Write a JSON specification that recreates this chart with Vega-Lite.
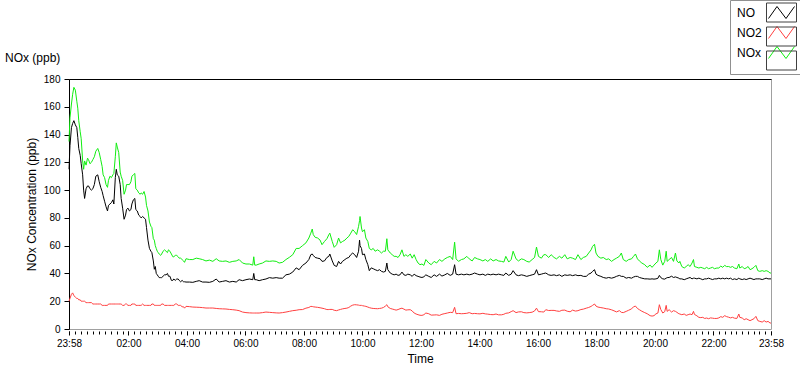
{
"$schema": "https://vega.github.io/schema/vega-lite/v6.json",
"width": 702, "height": 250,
"autosize": {"type": "none"},
"padding": {"left": 69, "top": 79, "right": 29, "bottom": 40},
"background": "white",
"title": {"text": "NOx (ppb)", "anchor": "start", "frame": "group", "dx": -64, "dy": 71, "offset": 6, "fontSize": 12, "fontWeight": "normal", "color": "black", "font": "Liberation Sans"},
"config": {"view": {"stroke": "#a0a0a0", "strokeWidth": 1}, "font": "Liberation Sans"},
"datasets": {
"d": [
{"t":0,"NO":115,"NO2":20,"NOx":135},{"t":2,"NO":132,"NO2":22,"NOx":152},{"t":5,"NO":145,"NO2":25,"NOx":162},{"t":7.5,"NO":148,"NO2":26,"NOx":169},{"t":10,"NO":150,"NO2":24,"NOx":174},{"t":13,"NO":147,"NO2":23,"NOx":172},{"t":16,"NO":145,"NO2":22,"NOx":164},{"t":18,"NO":138,"NO2":22,"NOx":159},{"t":20,"NO":130,"NO2":21,"NOx":150},{"t":23,"NO":125,"NO2":21,"NOx":142},{"t":25,"NO":119,"NO2":20,"NOx":137},{"t":28,"NO":111,"NO2":20,"NOx":121},{"t":30,"NO":100,"NO2":20,"NOx":115},{"t":32,"NO":94,"NO2":20,"NOx":121},{"t":35,"NO":101,"NO2":19,"NOx":118},{"t":38,"NO":103,"NO2":19,"NOx":123},{"t":40,"NO":103,"NO2":19,"NOx":122},{"t":43,"NO":101,"NO2":19,"NOx":119},{"t":46,"NO":100,"NO2":19,"NOx":120},{"t":49,"NO":101,"NO2":18,"NOx":122},{"t":52,"NO":104,"NO2":18,"NOx":124},{"t":55,"NO":110,"NO2":18,"NOx":128},{"t":59,"NO":111,"NO2":18,"NOx":130},{"t":62,"NO":106,"NO2":18,"NOx":127},{"t":65,"NO":102,"NO2":18,"NOx":122},{"t":68,"NO":99,"NO2":17,"NOx":117},{"t":70,"NO":96,"NO2":17,"NOx":111},{"t":73,"NO":92,"NO2":17,"NOx":109},{"t":76,"NO":88,"NO2":17,"NOx":104},{"t":79,"NO":85,"NO2":17,"NOx":102},{"t":81,"NO":89,"NO2":18,"NOx":107},{"t":84,"NO":90,"NO2":18,"NOx":110},{"t":87,"NO":91,"NO2":18,"NOx":109},{"t":90,"NO":93,"NO2":18,"NOx":111},{"t":92,"NO":90,"NO2":18,"NOx":112},{"t":95,"NO":109,"NO2":18,"NOx":124},{"t":97,"NO":115,"NO2":18,"NOx":134},{"t":99,"NO":111,"NO2":18,"NOx":131},{"t":102,"NO":110,"NO2":18,"NOx":127},{"t":105,"NO":104,"NO2":18,"NOx":113},{"t":107,"NO":94,"NO2":18,"NOx":110},{"t":110,"NO":87,"NO2":17,"NOx":107},{"t":113,"NO":79,"NO2":17,"NOx":97},{"t":116,"NO":82,"NO2":18,"NOx":100},{"t":118,"NO":86,"NO2":18,"NOx":104},{"t":121,"NO":87,"NO2":17,"NOx":104},{"t":124,"NO":85,"NO2":17,"NOx":104},{"t":127,"NO":86,"NO2":17,"NOx":106},{"t":129,"NO":90,"NO2":18,"NOx":110},{"t":132,"NO":93,"NO2":18,"NOx":111},{"t":135,"NO":94,"NO2":18,"NOx":112},{"t":137,"NO":86,"NO2":17,"NOx":101},{"t":140,"NO":85,"NO2":17,"NOx":100},{"t":143,"NO":82,"NO2":17,"NOx":98},{"t":146,"NO":81,"NO2":17,"NOx":97},{"t":148,"NO":80,"NO2":17,"NOx":98},{"t":151,"NO":81,"NO2":18,"NOx":97},{"t":154,"NO":80,"NO2":17,"NOx":99},{"t":157,"NO":79,"NO2":17,"NOx":95},{"t":159,"NO":73,"NO2":17,"NOx":89},{"t":162,"NO":64,"NO2":17,"NOx":85},{"t":165,"NO":58,"NO2":17,"NOx":77},{"t":168,"NO":56,"NO2":17,"NOx":74},{"t":170,"NO":55,"NO2":18,"NOx":73},{"t":173,"NO":49,"NO2":18,"NOx":65},{"t":175,"NO":43,"NO2":17,"NOx":64},{"t":177,"NO":45,"NO2":17,"NOx":60},{"t":179,"NO":40,"NO2":17,"NOx":58},{"t":181,"NO":39,"NO2":17,"NOx":56},{"t":183,"NO":38,"NO2":17,"NOx":55},{"t":185,"NO":37,"NO2":17,"NOx":54},{"t":188,"NO":37,"NO2":17,"NOx":53},{"t":190,"NO":37,"NO2":18,"NOx":54},{"t":193,"NO":38,"NO2":18,"NOx":56},{"t":196,"NO":39,"NO2":17,"NOx":57},{"t":199,"NO":39,"NO2":17,"NOx":56},{"t":202,"NO":40,"NO2":17,"NOx":55},{"t":204,"NO":38,"NO2":17,"NOx":57},{"t":207,"NO":38,"NO2":17,"NOx":56},{"t":210,"NO":35,"NO2":17,"NOx":54},{"t":213,"NO":35,"NO2":17,"NOx":52},{"t":215,"NO":36,"NO2":17,"NOx":52},{"t":218,"NO":35,"NO2":18,"NOx":53},{"t":221,"NO":36,"NO2":18,"NOx":53},{"t":224,"NO":36,"NO2":17,"NOx":52},{"t":226,"NO":35,"NO2":17,"NOx":51},{"t":229,"NO":34,"NO2":17,"NOx":51},{"t":232,"NO":35,"NO2":16,"NOx":50},{"t":235,"NO":34,"NO2":16,"NOx":49},{"t":237,"NO":34,"NO2":15,"NOx":48},
{"t":240,"NO":33.8,"NO2":16.3,"NOx":50.6},{"t":247,"NO":33.8,"NO2":16.1,"NOx":50},{"t":254,"NO":33.6,"NO2":15.8,"NOx":50},{"t":261,"NO":34.3,"NO2":15.7,"NOx":51},{"t":267,"NO":34.8,"NO2":15.6,"NOx":50.6},{"t":274,"NO":33.8,"NO2":15.4,"NOx":50},{"t":281,"NO":33.8,"NO2":15.1,"NOx":49},{"t":288,"NO":33.6,"NO2":15.1,"NOx":49.6},{"t":295,"NO":34.3,"NO2":15.1,"NOx":48.7},{"t":302,"NO":36,"NO2":14.8,"NOx":50.6},{"t":308,"NO":33.8,"NO2":14.6,"NOx":49},{"t":315,"NO":34.3,"NO2":14.5,"NOx":48.7},{"t":322,"NO":34.8,"NO2":14.4,"NOx":49},{"t":329,"NO":33.8,"NO2":14.1,"NOx":48},{"t":336,"NO":34.3,"NO2":13.9,"NOx":48.7},{"t":343,"NO":33.8,"NO2":13.6,"NOx":49},{"t":349,"NO":35.5,"NO2":13.2,"NOx":50},{"t":356,"NO":34.8,"NO2":12.2,"NOx":47.5},{"t":363,"NO":35.5,"NO2":11.8,"NOx":46.8},{"t":370,"NO":36,"NO2":11.6,"NOx":46.8},{"t":377,"NO":35.5,"NO2":11.5,"NOx":46},{"t":379,"NO":40,"NO2":11.5,"NOx":52},{"t":381,"NO":35.5,"NO2":11.5,"NOx":46},{"t":384,"NO":35.5,"NO2":11.5,"NOx":46},{"t":390,"NO":34.8,"NO2":11.5,"NOx":46.8},{"t":397,"NO":35.5,"NO2":11.8,"NOx":47.5},{"t":404,"NO":36,"NO2":12.2,"NOx":49},{"t":411,"NO":37,"NO2":12,"NOx":48.7},{"t":418,"NO":36.6,"NO2":11.8,"NOx":49},{"t":425,"NO":37,"NO2":11.6,"NOx":48.7},{"t":431,"NO":36.6,"NO2":11.5,"NOx":47.5},{"t":438,"NO":36.6,"NO2":11.8,"NOx":48},{"t":445,"NO":39,"NO2":12.2,"NOx":50},{"t":452,"NO":39.5,"NO2":12.7,"NOx":51.6},{"t":459,"NO":41,"NO2":13.2,"NOx":53.5},{"t":466,"NO":44,"NO2":13.5,"NOx":58},{"t":472,"NO":42.7,"NO2":13.9,"NOx":58},{"t":479,"NO":45.8,"NO2":14,"NOx":60},
{"t":486,"NO":47.5,"NO2":15,"NOx":62},{"t":492,"NO":50,"NO2":15.5,"NOx":65.5},{"t":496,"NO":53.5,"NO2":16.3,"NOx":69},{"t":499,"NO":54,"NO2":16.2,"NOx":72},{"t":501,"NO":53,"NO2":16,"NOx":68},{"t":505,"NO":51.5,"NO2":15.8,"NOx":66},{"t":510,"NO":51,"NO2":15.6,"NOx":65.5},{"t":515,"NO":50.6,"NO2":15.3,"NOx":64},{"t":519,"NO":48.7,"NO2":15,"NOx":60.7},{"t":524,"NO":49,"NO2":14.6,"NOx":63},{"t":529,"NO":51.5,"NO2":14,"NOx":65},{"t":533,"NO":52.3,"NO2":14,"NOx":67.9},{"t":535,"NO":54,"NO2":14.1,"NOx":69},{"t":540,"NO":49,"NO2":14.1,"NOx":63},{"t":544,"NO":45.8,"NO2":13.5,"NOx":58.8},{"t":549,"NO":45,"NO2":13.2,"NOx":60.7},{"t":553,"NO":48.7,"NO2":13.7,"NOx":65.5},{"t":557,"NO":46.8,"NO2":14.1,"NOx":62},{"t":561,"NO":48.7,"NO2":14.5,"NOx":63},{"t":566,"NO":50,"NO2":14.8,"NOx":64},{"t":570,"NO":51,"NO2":15,"NOx":65.5},{"t":574,"NO":51.5,"NO2":15.5,"NOx":66.7},{"t":578,"NO":53.5,"NO2":16.5,"NOx":69},{"t":582,"NO":54.7,"NO2":17.2,"NOx":71.5},{"t":586,"NO":53.5,"NO2":17.5,"NOx":70},{"t":590,"NO":51.5,"NO2":17.4,"NOx":68},{"t":594,"NO":56,"NO2":17.2,"NOx":73.9},{"t":596,"NO":64,"NO2":17,"NOx":78},{"t":597,"NO":60,"NO2":17,"NOx":81},{"t":600,"NO":58,"NO2":17,"NOx":72.7},{"t":602,"NO":53.5,"NO2":16.8,"NOx":70},{"t":606,"NO":54,"NO2":16.5,"NOx":71.5},{"t":609,"NO":50,"NO2":16.3,"NOx":65.5},{"t":613,"NO":46.3,"NO2":15.8,"NOx":63},{"t":616,"NO":42,"NO2":15.4,"NOx":58},{"t":620,"NO":44,"NO2":15,"NOx":57},{"t":624,"NO":43.4,"NO2":14.8,"NOx":58},{"t":628,"NO":42.7,"NO2":14.7,"NOx":56},{"t":633,"NO":42,"NO2":14.6,"NOx":57},{"t":637,"NO":42.7,"NO2":14.8,"NOx":56},{"t":641,"NO":41.5,"NO2":15,"NOx":54.7},{"t":645,"NO":41,"NO2":15.5,"NOx":56},{"t":649,"NO":41.5,"NO2":16.5,"NOx":56},{"t":652,"NO":47.5,"NO2":17.5,"NOx":65},{"t":654,"NO":42.7,"NO2":16,"NOx":57},{"t":659,"NO":40.3,"NO2":14.8,"NOx":54.7},{"t":663,"NO":39.5,"NO2":14.4,"NOx":53.5},{"t":667,"NO":39,"NO2":14,"NOx":52.3},{"t":671,"NO":39.5,"NO2":13.6,"NOx":52.3},{"t":675,"NO":38.6,"NO2":14,"NOx":51.5},{"t":679,"NO":39,"NO2":14.6,"NOx":53.5},{"t":683,"NO":41,"NO2":15,"NOx":57},{"t":687,"NO":39,"NO2":14.3,"NOx":52.3},{"t":691,"NO":38.6,"NO2":13.6,"NOx":53.5},{"t":695,"NO":39.5,"NO2":13.8,"NOx":52.3},{"t":700,"NO":39,"NO2":13.9,"NOx":54},{"t":704,"NO":37.9,"NO2":13,"NOx":51},{"t":708,"NO":39.5,"NO2":11.5,"NOx":53.5},{"t":712,"NO":38.4,"NO2":10.8,"NOx":50},{"t":716,"NO":37.9,"NO2":10.3,"NOx":47.5},{"t":720,"NO":37.4,"NO2":9.9,"NOx":46.3},{"t":724,"NO":37.1,"NO2":9.8,"NOx":46.8},{"t":728,"NO":37.6,"NO2":10.3,"NOx":45.8},
{"t":732,"NO":39,"NO2":11.5,"NOx":50},{"t":738,"NO":37.9,"NO2":11,"NOx":47.5},{"t":743,"NO":37.1,"NO2":10,"NOx":46.3},{"t":749,"NO":39,"NO2":10.1,"NOx":48.7},{"t":754,"NO":37.9,"NO2":10.2,"NOx":47.5},{"t":760,"NO":39.5,"NO2":9.8,"NOx":50},{"t":765,"NO":38.1,"NO2":10.6,"NOx":48.7},{"t":771,"NO":39,"NO2":11.1,"NOx":50.5},{"t":776,"NO":40,"NO2":11.5,"NOx":51.5},{"t":782,"NO":38.6,"NO2":12,"NOx":52.3},{"t":787,"NO":39.5,"NO2":11.8,"NOx":50},{"t":791,"NO":46.3,"NO2":15.6,"NOx":62.5},{"t":794,"NO":39.5,"NO2":11,"NOx":50.5},{"t":799,"NO":39,"NO2":11.2,"NOx":48.7},{"t":805,"NO":39.5,"NO2":11,"NOx":50},{"t":810,"NO":39,"NO2":11.1,"NOx":50.5},{"t":816,"NO":39.5,"NO2":11.3,"NOx":52.3},{"t":821,"NO":39,"NO2":11.8,"NOx":50.5},{"t":827,"NO":39.5,"NO2":11,"NOx":49},{"t":832,"NO":40.3,"NO2":11.2,"NOx":51.5},{"t":838,"NO":39.5,"NO2":11,"NOx":50.5},{"t":843,"NO":39,"NO2":10.9,"NOx":50},{"t":849,"NO":39.5,"NO2":11.3,"NOx":49},{"t":854,"NO":38.6,"NO2":10.9,"NOx":50},{"t":859,"NO":39.5,"NO2":10.7,"NOx":48.7},{"t":865,"NO":39,"NO2":10.4,"NOx":50.5},{"t":870,"NO":39.5,"NO2":10.3,"NOx":49},{"t":876,"NO":39,"NO2":10.8,"NOx":50},{"t":881,"NO":39.5,"NO2":10.2,"NOx":49},{"t":887,"NO":39,"NO2":10.2,"NOx":48.7},{"t":892,"NO":38.6,"NO2":10.6,"NOx":48.2},{"t":896,"NO":40.3,"NO2":11.3,"NOx":52.3},{"t":902,"NO":38.6,"NO2":11.6,"NOx":48.2},{"t":907,"NO":39.5,"NO2":12.5,"NOx":50},{"t":911,"NO":42,"NO2":13.2,"NOx":56},{"t":917,"NO":39,"NO2":11.8,"NOx":50.5},{"t":922,"NO":38.4,"NO2":12.3,"NOx":49},{"t":928,"NO":39,"NO2":12.4,"NOx":50.5},{"t":933,"NO":38.6,"NO2":11.8,"NOx":50},{"t":939,"NO":37.9,"NO2":11.6,"NOx":48.7},{"t":944,"NO":38.4,"NO2":11.8,"NOx":48.2},{"t":950,"NO":39,"NO2":12.1,"NOx":50},{"t":955,"NO":39.5,"NO2":13,"NOx":51.5},{"t":959,"NO":42.7,"NO2":15,"NOx":59},{"t":963,"NO":39,"NO2":12.5,"NOx":52.3},{"t":969,"NO":39.5,"NO2":12.4,"NOx":51},{"t":974,"NO":40,"NO2":12.2,"NOx":53.5},
{"t":978,"NO":40.3,"NO2":13.9,"NOx":53.5},{"t":984,"NO":39,"NO2":13.3,"NOx":51.5},{"t":989,"NO":38.6,"NO2":13.4,"NOx":53.5},{"t":995,"NO":39,"NO2":13.4,"NOx":51.5},{"t":1000,"NO":38.4,"NO2":13,"NOx":50.5},{"t":1006,"NO":39,"NO2":12.7,"NOx":52.3},{"t":1011,"NO":37.9,"NO2":13.5,"NOx":51},{"t":1017,"NO":39,"NO2":13.6,"NOx":53.5},{"t":1022,"NO":38.6,"NO2":12.8,"NOx":50.5},{"t":1028,"NO":39,"NO2":12.4,"NOx":51.5},{"t":1033,"NO":38.4,"NO2":13.6,"NOx":51},{"t":1039,"NO":39,"NO2":12.9,"NOx":50},{"t":1044,"NO":38.4,"NO2":13.2,"NOx":53.5},{"t":1050,"NO":38.6,"NO2":14,"NOx":50},{"t":1055,"NO":37.9,"NO2":14.3,"NOx":51.5},{"t":1061,"NO":37.9,"NO2":15,"NOx":52.3},{"t":1066,"NO":39.5,"NO2":15.5,"NOx":54.7},{"t":1071,"NO":40.3,"NO2":16.3,"NOx":57},{"t":1074,"NO":41.5,"NO2":17,"NOx":59.5},{"t":1078,"NO":42.7,"NO2":18,"NOx":61},{"t":1081,"NO":39.5,"NO2":16.5,"NOx":54.7},{"t":1085,"NO":38.6,"NO2":15.8,"NOx":52.3},{"t":1091,"NO":37.9,"NO2":15.4,"NOx":51},{"t":1096,"NO":37.1,"NO2":15.1,"NOx":51.5},{"t":1102,"NO":36.6,"NO2":14.6,"NOx":50},{"t":1107,"NO":37.1,"NO2":14.4,"NOx":50.5},{"t":1113,"NO":36.6,"NO2":13.8,"NOx":48.7},{"t":1118,"NO":37.1,"NO2":13.1,"NOx":50},{"t":1123,"NO":37.9,"NO2":12.3,"NOx":51},{"t":1129,"NO":38.6,"NO2":13.2,"NOx":52.3},{"t":1133,"NO":37.9,"NO2":12,"NOx":54.7},{"t":1137,"NO":37.9,"NO2":11.8,"NOx":50},{"t":1143,"NO":36.6,"NO2":12.7,"NOx":48.7},{"t":1148,"NO":37.1,"NO2":13.5,"NOx":50},{"t":1154,"NO":36.6,"NO2":14.5,"NOx":50.5},{"t":1158,"NO":37.4,"NO2":16,"NOx":52.3},{"t":1162,"NO":37.9,"NO2":16.5,"NOx":54},{"t":1166,"NO":37.9,"NO2":14.8,"NOx":50.5},{"t":1170,"NO":37.1,"NO2":13.9,"NOx":49},{"t":1175,"NO":36.6,"NO2":12.8,"NOx":47.5},{"t":1181,"NO":36.1,"NO2":11.8,"NOx":46.3},{"t":1186,"NO":36.1,"NO2":11,"NOx":44.4},{"t":1192,"NO":35.9,"NO2":9.6,"NOx":46},{"t":1196,"NO":36.1,"NO2":9.3,"NOx":44.4},{"t":1200,"NO":35.9,"NO2":9.6,"NOx":46},{"t":1204,"NO":36.1,"NO2":10.9,"NOx":47.5},{"t":1208,"NO":36.5,"NO2":11.5,"NOx":48.7},{"t":1211,"NO":38.6,"NO2":17.5,"NOx":57},{"t":1214,"NO":37,"NO2":14,"NOx":50},{"t":1218,"NO":36.1,"NO2":11.5,"NOx":46},{"t":1222,"NO":35.9,"NO2":12.5,"NOx":48.7},
{"t":1225,"NO":36.6,"NO2":17,"NOx":56},{"t":1227,"NO":37,"NO2":12.7,"NOx":48.7},{"t":1231,"NO":37.1,"NO2":13.9,"NOx":50},{"t":1236,"NO":38,"NO2":12.2,"NOx":51.5},{"t":1240,"NO":37.1,"NO2":13.2,"NOx":48.7},{"t":1244,"NO":37.5,"NO2":12.7,"NOx":54.7},{"t":1247,"NO":37.1,"NO2":12,"NOx":49},{"t":1251,"NO":36.6,"NO2":11,"NOx":47.5},{"t":1253,"NO":36.1,"NO2":10.8,"NOx":48.7},{"t":1257,"NO":36.1,"NO2":10.3,"NOx":45},{"t":1262,"NO":35.5,"NO2":10.8,"NOx":43.9},{"t":1266,"NO":36.1,"NO2":9.8,"NOx":45},{"t":1270,"NO":36.6,"NO2":10.3,"NOx":46.3},{"t":1274,"NO":37.1,"NO2":10.8,"NOx":45},{"t":1278,"NO":36.1,"NO2":10.3,"NOx":47.5},{"t":1281,"NO":36.6,"NO2":12.7,"NOx":50},{"t":1283,"NO":36.6,"NO2":10.5,"NOx":45},{"t":1288,"NO":36.1,"NO2":9.5,"NOx":44.4},{"t":1292,"NO":36.6,"NO2":8.4,"NOx":43.9},{"t":1296,"NO":36.1,"NO2":8.2,"NOx":44.4},{"t":1300,"NO":35.5,"NO2":8.4,"NOx":43.9},{"t":1304,"NO":36.1,"NO2":7.6,"NOx":43.4},{"t":1308,"NO":36.1,"NO2":7.9,"NOx":44.4},{"t":1312,"NO":36.6,"NO2":7.4,"NOx":43.4},{"t":1316,"NO":36.1,"NO2":8,"NOx":43.9},{"t":1320,"NO":35.6,"NO2":7.8,"NOx":44.4},{"t":1324,"NO":36.1,"NO2":7.6,"NOx":43.4},{"t":1329,"NO":36.1,"NO2":7.6,"NOx":43.9},{"t":1333,"NO":36.6,"NO2":8,"NOx":43.9},{"t":1337,"NO":36.1,"NO2":8.9,"NOx":45.3},{"t":1341,"NO":36.6,"NO2":8.4,"NOx":44.4},{"t":1345,"NO":36.1,"NO2":9.6,"NOx":45.8},{"t":1349,"NO":36.6,"NO2":8.9,"NOx":44.9},{"t":1353,"NO":36.1,"NO2":8.5,"NOx":45},{"t":1357,"NO":36.6,"NO2":8,"NOx":44.4},{"t":1361,"NO":35.6,"NO2":8.4,"NOx":45},{"t":1365,"NO":36.1,"NO2":7.8,"NOx":43.9},{"t":1370,"NO":35.6,"NO2":7.6,"NOx":43.4},{"t":1374,"NO":36.6,"NO2":10.8,"NOx":46.8},{"t":1376,"NO":36.1,"NO2":8.4,"NOx":43.9},{"t":1381,"NO":35.6,"NO2":7.9,"NOx":45},{"t":1385,"NO":36.1,"NO2":6.7,"NOx":43.4},{"t":1389,"NO":35.6,"NO2":7.4,"NOx":43.9},{"t":1393,"NO":36.1,"NO2":6.7,"NOx":45},{"t":1397,"NO":36.6,"NO2":6,"NOx":42.7},{"t":1401,"NO":36.1,"NO2":6.7,"NOx":43.4},{"t":1405,"NO":35.6,"NO2":7.4,"NOx":44.4},{"t":1409,"NO":36.1,"NO2":9.1,"NOx":45.8},{"t":1413,"NO":36.1,"NO2":6,"NOx":42},{"t":1417,"NO":36.1,"NO2":5.5,"NOx":41.5},{"t":1422,"NO":35.6,"NO2":5,"NOx":42},{"t":1426,"NO":36.1,"NO2":6,"NOx":41.5},{"t":1430,"NO":36.6,"NO2":5,"NOx":42},{"t":1434,"NO":36.1,"NO2":5.5,"NOx":41.5},{"t":1438,"NO":36.1,"NO2":4.3,"NOx":40.3},{"t":1440,"NO":36.1,"NO2":4.3,"NOx":40.3}
],
"k": [{"t":0,"k":"b1"},{"t":0,"k":"b2"},{"t":1440,"k":"b3"}]
},
"layer": [
{
"data": {"name": "d"},
"transform": [{"fold": ["NO","NO2","NOx"], "as": ["s","v"]}],
"mark": {"type": "line", "strokeWidth": 1},
"encoding": {
"x": {"field": "t", "type": "quantitative", "scale": {"domain": [0,1440], "nice": false, "zero": false},
 "axis": {"orient": "bottom", "title": "Time", "values": [0,122,242,362,482,602,722,842,962,1082,1202,1322,1440],
  "labelExpr": "timeFormat(datetime(2000,0,1,23,58+datum.value),'%H:%M')",
  "domain": false, "offset": 2, "tickSize": 4, "tickColor": "black", "tickWidth": 1,
  "labelFontSize": 10, "labelColor": "black", "labelPadding": 3, "labelFlush": false, "labelOverlap": false,
  "titleFontSize": 12, "titleFontWeight": "normal", "titleColor": "black", "titlePadding": 5, "grid": false}},
"y": {"field": "v", "type": "quantitative", "scale": {"domain": [0,180], "nice": false},
 "axis": {"title": "NOx Concentration (ppb)", "values": [0,20,40,60,80,100,120,140,160,180],
  "domainColor": "black", "tickColor": "black", "tickSize": 5, "labelFontSize": 10, "labelColor": "black", "labelPadding": 4,
  "titleFontSize": 12, "titleFontWeight": "normal", "titleColor": "black", "titlePadding": 5, "grid": false}},
"color": {"field": "s", "type": "nominal",
 "scale": {"domain": ["NO","NO2","NOx"], "range": ["#000000","#ff4040","#11ee11"]},
 "legend": {"orient": "none", "legendX": 661, "legendY": -79, "title": null,
  "symbolType": "M-1.3,0.6L-0.45,-0.6L0.45,0.6L1.3,-0.6", "symbolSize": 400, "symbolStrokeWidth": 1, "symbolFillColor": "transparent",
  "labelFontSize": 12, "labelColor": "black", "labelOffset": -55, "symbolOffset": 39, "rowPadding": 1, "padding": 2}}
}
},
{
"data": {"name": "k"},
"mark": {"type": "point", "opacity": 0},
"encoding": {
"x": {"field": "t", "type": "quantitative",
 "axis": {"orient": "bottom", "title": null, "labels": false, "domain": false, "grid": false, "offset": 2, "tickSize": 3, "tickColor": "black",
  "values": [0,12.2,24.4,36.6,48.8,61,73.2,85.4,97.6,109.8,122,134,146,158,170,182,194,206,218,230,242,254,266,278,290,302,314,326,338,350,362,374,386,398,410,422,434,446,458,470,482,494,506,518,530,542,554,566,578,590,602,614,626,638,650,662,674,686,698,710,722,734,746,758,770,782,794,806,818,830,842,854,866,878,890,902,914,926,938,950,962,974,986,998,1010,1022,1034,1046,1058,1070,1082,1094,1106,1118,1130,1142,1154,1166,1178,1190,1202,1214,1226,1238,1250,1262,1274,1286,1298,1310,1322,1333.8,1345.6,1357.4,1369.2,1381,1392.8,1404.6,1416.4,1428.2,1440]}},
"shape": {"field": "k", "type": "nominal",
 "scale": {"domain": ["b1","b2","b3"], "range": ["M-1.5,-0.95H1.5V0.95H-1.5Z","M-1.5,-0.95H1.5V0.95H-1.5Z","M-1.5,-0.95H1.5V0.95H-1.5Z"]},
 "legend": {"orient": "none", "legendX": 661, "legendY": -79, "title": null, "symbolSize": 400,
  "symbolStrokeColor": "#404040", "symbolStrokeWidth": 1, "symbolFillColor": "transparent", "symbolOpacity": 1,
  "labelFontSize": 12, "labelExpr": "''", "labelOffset": -55, "symbolOffset": 39, "rowPadding": 1, "padding": 2,
  "strokeColor": "#909090"}}
}
},
{
"data": {"name": "k"},
"mark": {"type": "point", "opacity": 0},
"encoding": {
"x": {"field": "t", "type": "quantitative",
 "axis": {"orient": "top", "title": null, "labels": false, "ticks": false, "grid": false, "domain": true, "domainColor": "black"}}
}
}
],
"resolve": {"axis": {"x": "independent"}}
}
